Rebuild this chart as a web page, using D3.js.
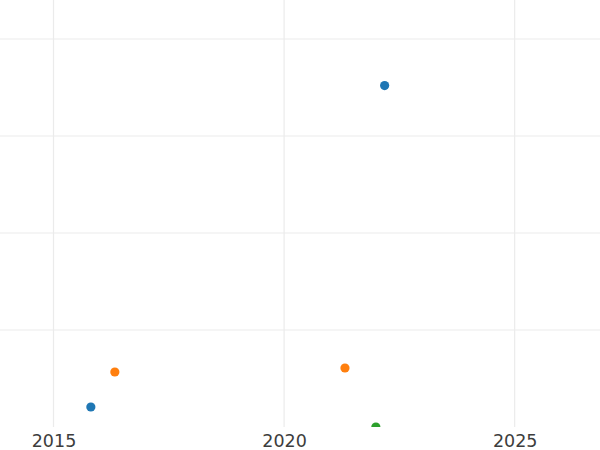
<!DOCTYPE html>
<html><head><meta charset="utf-8">
<script src="https://cdn.jsdelivr.net/npm/d3@7"></script>
<style>body{margin:0;background:#fff;}</style>
</head><body>
<svg id="c" width="600" height="450"></svg>
<script>
const seriesNames = ["A", "B", "C"];
const colors = ["#1f77b4", "#ff7f0e", "#2ca02c"];
const seriesYears = [[2015.81, 2022.18], [2016.33, 2021.32], [2021.99]];
const seriesValues = [[0.206, 3.52], [0.567, 0.608], [0.0]];
const xTicks = [2015, 2020, 2025];
const yTicks = [1, 2, 3, 4];

const W = 600, H = 450;
const m = {top: 0, right: 0, bottom: 23, left: 0};
const svg = d3.select("#c");
const x = d3.scaleLinear().domain([2013.84, 2026.85]).range([m.left, W - m.right]);
const y = d3.scaleLinear().domain([0, 4.402]).range([H - m.bottom, m.top]);

svg.append("defs").append("clipPath").attr("id", "clip")
  .append("rect").attr("x", m.left).attr("y", m.top)
  .attr("width", W - m.left - m.right).attr("height", H - m.bottom - m.top);

const g = svg.append("g");
g.selectAll("line.gx").data(xTicks).join("line").attr("class", "gx")
  .attr("x1", d => x(d)).attr("x2", d => x(d))
  .attr("y1", m.top).attr("y2", H - m.bottom)
  .attr("stroke", "#ebebeb").attr("stroke-width", 1.2);
g.selectAll("line.gy").data(yTicks).join("line").attr("class", "gy")
  .attr("x1", m.left).attr("x2", W - m.right)
  .attr("y1", d => y(d)).attr("y2", d => y(d))
  .attr("stroke", "#ebebeb").attr("stroke-width", 1.2);

const xAxis = d3.axisBottom(x).tickValues(xTicks).tickFormat(d3.format("d")).tickSize(0).tickPadding(8);
const ax = svg.append("g").attr("transform", `translate(0,${H - m.bottom})`).call(xAxis);
ax.select(".domain").remove();
ax.selectAll("text").attr("font-family", "DejaVu Sans").attr("font-size", 17.5).attr("fill", "#3d3d3d");

const pts = svg.append("g").attr("clip-path", "url(#clip)");
seriesNames.forEach((s, i) => {
  pts.selectAll(null).data(seriesYears[i].map((yr, j) => [yr, seriesValues[i][j]]))
    .join("circle")
    .attr("cx", d => x(d[0])).attr("cy", d => y(d[1]))
    .attr("r", 4.6).attr("fill", colors[i]);
});
</script>
</body></html>
